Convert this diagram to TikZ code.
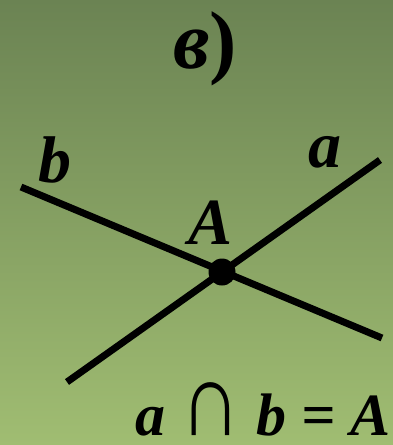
\documentclass[tikz,border=0pt]{standalone}
\usepackage{fontspec}
\usepackage{graphicx}
\setmainfont{Liberation Serif}
\definecolor{bgtop}{RGB}{107,131,83}
\definecolor{bgbot}{RGB}{160,189,114}
\tikzset{
  lbl/.style={font=\fontsize{66}{72}\selectfont\bfseries\itshape, inner sep=0pt, text=black},
  ln/.style={line width=7pt, black},
}
\begin{document}
\begin{tikzpicture}[x=1pt,y=-1pt]
\useasboundingbox (0,0) rectangle (393,445);
\shade[top color=bgtop, bottom color=bgbot] (0,0) rectangle (393,445);
\coordinate (b1) at (21,187);
\coordinate (b2) at (382,338);
\coordinate (a1) at (67,382);
\coordinate (a2) at (380,160);
\draw[ln] (b1) -- (b2);
\draw[ln] (a1) -- (a2);
\fill (222,272) circle (13.5);
\node[lbl, font=\fontsize{82}{90}\selectfont\bfseries\itshape, anchor=base] (title) at (205,68) {в\textup{)}};
\node[lbl, anchor=base] (lb) at (55,182) {b};
\node[lbl, anchor=base] (la) at (325,167) {a};
\node[lbl, anchor=base] (lA) at (211,244) {A};
\node[lbl, font=\fontsize{60}{66}\selectfont\bfseries\itshape, anchor=base east] (eq) at (391,435) {a {\mdseries\upshape\scalebox{1.4}[1.75]{∩}} b = A};
\end{tikzpicture}
\end{document}
